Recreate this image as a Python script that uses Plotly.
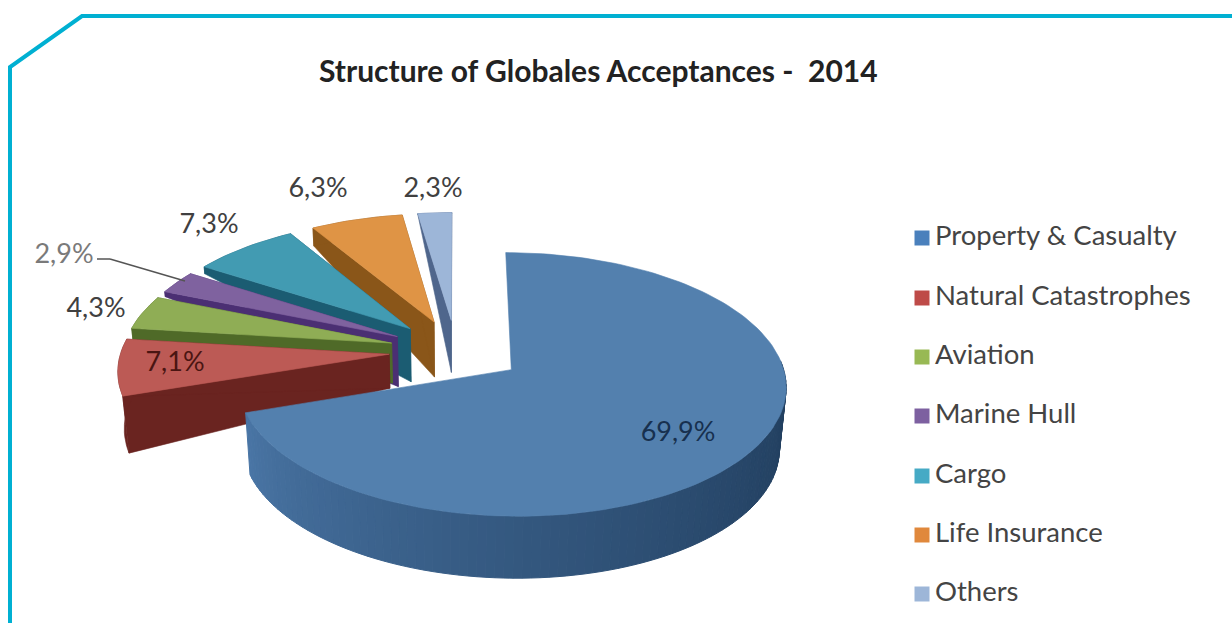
import math
import plotly.graph_objects as go

# ---- data ----
categories = ["Property & Casualty", "Natural Catastrophes", "Aviation",
              "Marine Hull", "Cargo", "Life Insurance", "Others"]
values = [69.9, 7.1, 4.3, 2.9, 7.3, 6.3, 2.3]
title_text = "Structure of Globales Acceptances -  2014"

# ---- styles ----
top_colors = ["#5380AE", "#BC5A55", "#8FAD55", "#7F629F", "#429BB2", "#DF9445", "#9DB6D8"]
side_colors = ["#2F5075", "#6A2420", "#4F6A28", "#4B2F73", "#1B5C72", "#8A5619", "#4F668C"]
legend_colors = ["#4A80BC", "#BE4B48", "#98B954", "#7D60A0", "#46AAC5", "#E0883C", "#9DB6D8"]
depth_outer = [62, 57, 11, 5, 7, 18, 1]
depth_apex = [60, 34, 40, 50, 53, 55, 52]
label_pos = [(678, 434), (175, 364), (96, 310), (64, 256), (209, 226), (318, 190), (433, 190)]
label_colors = ["#17304F", "#4A1512", "#404040", "#7A7A7A", "#404040", "#404040", "#404040"]
legend_y = [238, 298, 357, 416, 476, 535, 594]

# ---- projection of a tilted, exploded pie onto the page ----
CX, CY, RX, RY, K, EXPLODE = 456, 351, 268, 126, 0.11, 0.25


def project(u, v, depth=0.0):
    w = 1 - K * v
    x = CX + RX * u / w
    y = CY + RY * v / w
    if depth:
        x = CX + (x - CX) * (1 - 0.02 * depth / 60)
        y = y + depth
    return x, y


def poly(pts, color, width=0.6):
    xs = [p[0] for p in pts] + [pts[0][0]]
    ys = [p[1] for p in pts] + [pts[0][1]]
    return go.Scatter(x=xs, y=ys, mode="lines", fill="toself", fillcolor=color,
                      line=dict(color=color, width=width), hoverinfo="skip",
                      showlegend=False)


def mix(c1, c2, t):
    a = [int(c1[i:i + 2], 16) for i in (1, 3, 5)]
    b = [int(c2[i:i + 2], 16) for i in (1, 3, 5)]
    return "#%02X%02X%02X" % tuple(round(p + (q - p) * t) for p, q in zip(a, b))


total = sum(values)
spans = []
start = 0.0
for val in values:
    end = start + val / total * 2 * math.pi
    spans.append((start, end))
    start = end

fig = go.Figure()
for i in [6, 5, 4, 3, 2, 1, 0]:
    a0, a1 = spans[i]
    mid = (a0 + a1) / 2
    u0 = EXPLODE * math.sin(mid)
    v0 = -EXPLODE * math.cos(mid)
    n = max(6, int((a1 - a0) / 0.03))
    angles = [a0 + (a1 - a0) * j / n for j in range(n + 1)]
    rim = [(u0 + math.sin(a), v0 - math.cos(a)) for a in angles]
    top = [project(u, v) for u, v in rim]
    bot = [project(u, v, depth_outer[i]) for u, v in rim]
    apex_top = project(u0, v0)
    apex_bot = project(u0, v0, depth_apex[i])
    # radial walls (the large slice shows neither of them)
    if i != 0:
        fig.add_trace(poly([apex_top, top[0], bot[0], apex_bot], side_colors[i]))
        fig.add_trace(poly([apex_top, top[-1], bot[-1], apex_bot], side_colors[i]))
    # rim wall
    if i == 0:
        for j in range(n):
            if angles[j] < math.pi * 0.47:
                continue
            t = (angles[j] - math.pi / 2) / (a1 - math.pi / 2)
            t = max(0.0, min(1.0, t))
            shade = mix("#213E5E", "#4A76A6", t ** 1.3)
            fig.add_trace(poly([top[j], top[j + 1], bot[j + 1], bot[j]], shade, 1))
    else:
        fig.add_trace(poly(top + bot[::-1], side_colors[i]))
    # top face
    fig.add_trace(poly([apex_top] + top, top_colors[i]))

# value labels
lx = [p[0] for p in label_pos]
ly = [p[1] for p in label_pos]
fig.add_trace(go.Scatter(
    x=lx, y=ly, mode="text",
    text=[f"{v:.1f}%".replace(".", ",") for v in values],
    textfont=dict(family="Lato", size=27, color=label_colors),
    hoverinfo="skip", showlegend=False))

# leader line for the small slice
fig.add_shape(type="line", x0=97, y0=259, x1=110, y1=259, line=dict(color="#555555", width=1.5))
fig.add_shape(type="line", x0=110, y0=259, x1=185, y1=281, line=dict(color="#555555", width=1.5))

# legend
fig.add_trace(go.Scatter(
    x=[922] * len(categories), y=legend_y, mode="markers",
    marker=dict(symbol="square", size=15, color=legend_colors),
    hoverinfo="skip", showlegend=False))
fig.add_trace(go.Scatter(
    x=[935] * len(categories), y=legend_y, mode="text", text=categories,
    textposition="middle right",
    textfont=dict(family="Lato", size=27.5, color="#444444"),
    hoverinfo="skip", showlegend=False))

# frame
fig.add_shape(type="path", path="M 10 623 L 10 67 L 82 16 L 1232 16",
              line=dict(color="#00B0D2", width=4))

fig.add_annotation(x=598, y=70, xref="x", yref="y", text=f"<b>{title_text}</b>",
                   showarrow=False, font=dict(family="Lato", size=30, color="#222222"))

fig.update_layout(
    width=1232, height=623, margin=dict(l=0, r=0, t=0, b=0), autosize=False,
    paper_bgcolor="#FFFFFF", plot_bgcolor="#FFFFFF",
    xaxis=dict(range=[0, 1232], visible=False, fixedrange=True),
    yaxis=dict(range=[623, 0], visible=False, fixedrange=True),
)
fig.write_html("out.html", config={"displayModeBar": False},
               post_script="document.body.style.margin='0';document.body.style.overflow='hidden';")
